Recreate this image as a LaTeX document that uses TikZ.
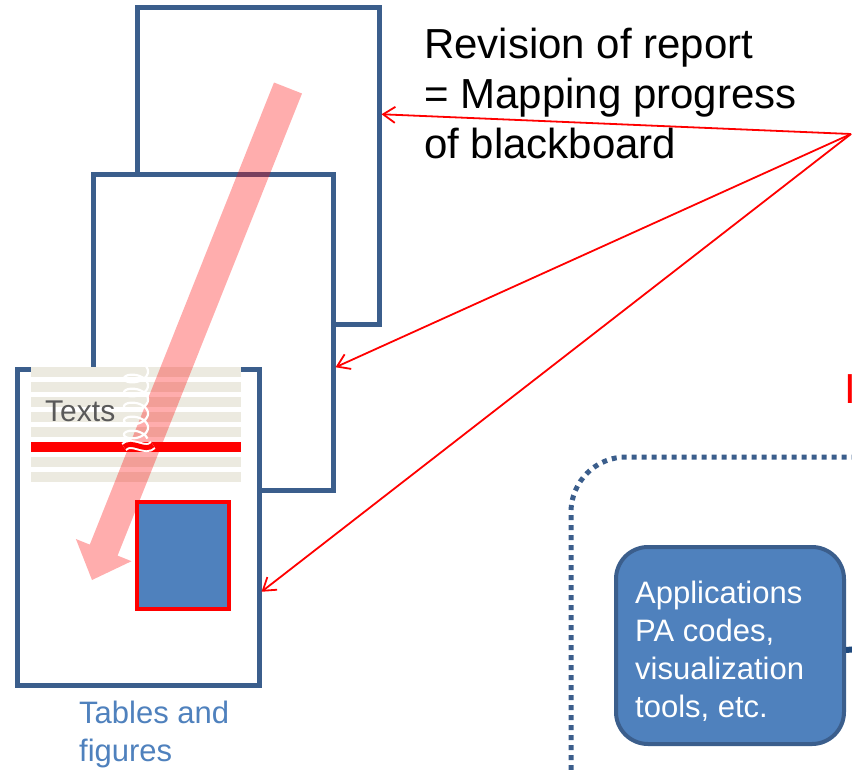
\documentclass[tikz,border=0pt]{standalone}
\usepackage{fontspec}
\setmainfont{Liberation Sans}
\usetikzlibrary{arrows.meta,positioning,calc}
\definecolor{pageblue}{RGB}{59,94,140}
\definecolor{figblue}{RGB}{79,129,189}
\definecolor{linebeige}{RGB}{236,234,224}
\definecolor{textgray}{RGB}{89,89,89}
\definecolor{linkblue}{RGB}{31,73,125}
\definecolor{markred}{RGB}{255,0,0}

\begin{document}
\begin{tikzpicture}[x=1pt,y=-1pt]
\tikzstyle{pg}=[draw=pageblue,line width=4.5pt,fill=white,anchor=north west,
inner sep=0pt,minimum width=242pt,minimum height=316pt]
\tikzstyle{redarr}=[draw=markred,line width=1.8pt,-{Straight Barb[length=12pt,width=16pt]}]
\tikzstyle{app}=[draw=pageblue,line width=4pt,fill=figblue,rounded corners=32pt,
anchor=north west,minimum width=228pt,minimum height=197pt]
\tikzstyle{apptext}=[inner sep=0pt,text=white,align=left,font=\fontsize{31}{38}\selectfont]
\useasboundingbox (0,0) rectangle (852,769);
\clip (0,0) rectangle (852,769);

% pages of the report
\node[pg,minimum height=317pt](p1) at (135,5){};
\node[pg,minimum width=240pt](p2) at (91,172){};
\node[pg](p3) at (15,367){};

% text lines of the last page
\foreach \y in {372,387,402,417,432,462,477}
  \fill[linebeige] (31,\y-5) rectangle (241,\y+5);
\fill[markred] (31,442) rectangle (241,452);
\node[anchor=west,inner sep=0pt,text=textgray,font=\fontsize{30}{36}\selectfont](txt) at (45,411){Texts};

% figure on the last page
\node[draw=markred,line width=4pt,fill=figblue,anchor=north west,inner sep=0pt,
minimum width=92pt,minimum height=107pt](fig) at (135,500){};

% big arrow across the pages
\fill[markred,fill opacity=0.32] (274,82.5) -- (302,93.5) -- (117.6,555.6) -- (131.5,561.2)
  -- (92,580) -- (75.9,539) -- (89.8,544.6) -- cycle;

% white coil over the text
\draw[white,line width=2.2pt] plot[domain=0:5.2,samples=220]
  ({136+12*sin(360*\x)},{368+14*\x-7*cos(360*\x)});
\draw[white,line width=9pt] (124,447) .. controls (132,439) and (145,453) .. (153,445);
\draw[markred,line width=5pt] (124,447) .. controls (132,439) and (145,453) .. (153,445);

% caption below the pages
\node[anchor=north west,inner sep=0pt,align=left,text=figblue,
font=\fontsize{31}{38}\selectfont](cap) at (79,701){Tables and\\figures};

% revision label and arrows
\node[anchor=north west,inner sep=0pt,align=left,
font=\fontsize{42}{50}\selectfont](rev) at (424,28){Revision of report\\= Mapping progress\\of blackboard};
\coordinate (src) at (851,134);
\draw[redarr] (src) -- ([yshift=51.5pt]p1.east);
\draw[redarr] (src) -- ([yshift=-35pt]p2.east);
\draw[redarr] (src) -- ([yshift=-64.5pt]p3.east);

% clipped red text at the right edge
\node[anchor=base west,inner sep=0pt,text=markred,font=\fontsize{42}{50}\selectfont](cut) at (844,403){I};

% dotted frame
\draw[pageblue,line width=5pt,dash pattern=on 5pt off 5pt,rounded corners=55pt]
  (571,800) -- (571,457) -- (900,457);

% applications box
\node[app](apps) at (614,545){};
\node[apptext,below right=36pt and 21pt of apps.north west](appstext)
  {Applications\\PA codes,\\visualization\\tools, etc.};
\coordinate (linkend) at (870,648);
\draw[linkblue,line width=6pt] ([yshift=-4.5pt]apps.east) -- (linkend);
\end{tikzpicture}
\end{document}
